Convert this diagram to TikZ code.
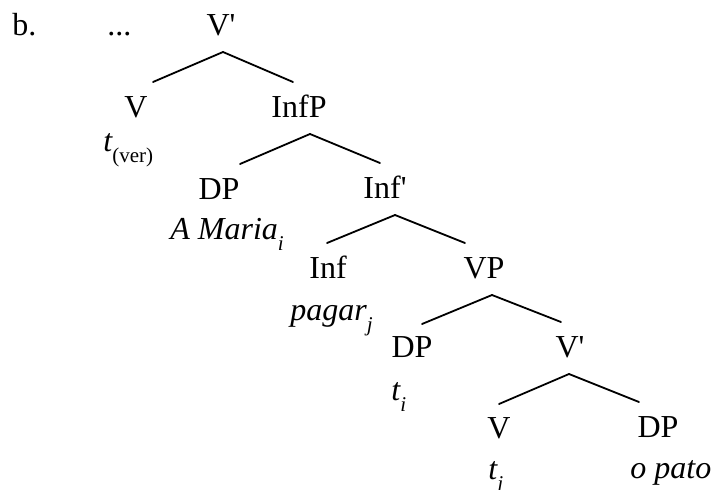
\documentclass[tikz,border=0pt]{standalone}
\usepackage{fontspec}
\setmainfont{Liberation Serif}
\usetikzlibrary{calc}
\newcommand{\lowidx}[1]{\raisebox{-5.5pt}{\fontsize{10.5pt}{10.5pt}\selectfont #1}}

\begin{document}
\begin{tikzpicture}[
    x=0.5pt, y=-0.5pt,
    cat/.style={inner sep=0pt, anchor=base, font=\fontsize{16pt}{19pt}\selectfont},
    word/.style={inner sep=0pt, anchor=base west, font=\fontsize{16pt}{19pt}\selectfont\itshape},
    branch/.style={line width=0.9pt, line cap=round}
]
\useasboundingbox (0,0) rectangle (716,489);

\node[word, font=\fontsize{16pt}{19pt}\selectfont] (label) at (12,35)  {b.};
\node[word, font=\fontsize{16pt}{19pt}\selectfont] (dots)  at (107,35) {...};

\node[cat] (vbartop) at (221,35)  {V\textquotesingle};
\node[cat] (vhigh)   at (136,117) {V};
\node[cat] (infp)    at (299,117) {InfP};
\node[word] (tver)   at (103,151) {t\lowidx{\upshape(ver)}};
\node[cat] (dpsubj)  at (219,199) {DP};
\node[word] (maria)  at (170,239) {A Maria\lowidx{i}};
\node[cat] (infbar)  at (385,198) {Inf\textquotesingle};
\node[cat] (inf)     at (328,278) {Inf};
\node[word] (pagar)  at (290,320) {pagar\lowidx{j}};
\node[cat] (vp)      at (484,278) {VP};
\node[cat] (dpspec)  at (412,357) {DP};
\node[word] (ti)     at (391,400) {t\lowidx{i}};
\node[cat] (vbarlow) at (570,357) {V\textquotesingle};
\node[cat] (vlow)    at (499,438) {V};
\node[word] (tj)     at (488,479) {t\lowidx{j}};
\node[cat] (dpobj)   at (658,437) {DP};
\node[word] (pato)   at (630,478) {o pato};

% branches
\draw[branch] ($(vbartop.base)+(2,17)$)  -- ($(vhigh.base)+(17,-35)$);
\draw[branch] ($(vbartop.base)+(2,17)$)  -- ($(infp.base)+(-6,-35)$);
\draw[branch] ($(infp.base)+(11,17)$)    -- ($(dpsubj.base)+(21,-35)$);
\draw[branch] ($(infp.base)+(11,17)$)    -- ($(infbar.base)+(-5,-35)$);
\draw[branch] ($(infbar.base)+(10,17)$)  -- ($(inf.base)+(-1,-35)$);
\draw[branch] ($(infbar.base)+(10,17)$)  -- ($(vp.base)+(-19,-35)$);
\draw[branch] ($(vp.base)+(8,17)$)       -- ($(dpspec.base)+(10,-33)$);
\draw[branch] ($(vp.base)+(8,17)$)       -- ($(vbarlow.base)+(-9,-35)$);
\draw[branch] ($(vbarlow.base)+(-1,17)$) -- ($(vlow.base)+(0,-34)$);
\draw[branch] ($(vbarlow.base)+(-1,17)$) -- ($(dpobj.base)+(-19,-35)$);
\end{tikzpicture}
\end{document}
